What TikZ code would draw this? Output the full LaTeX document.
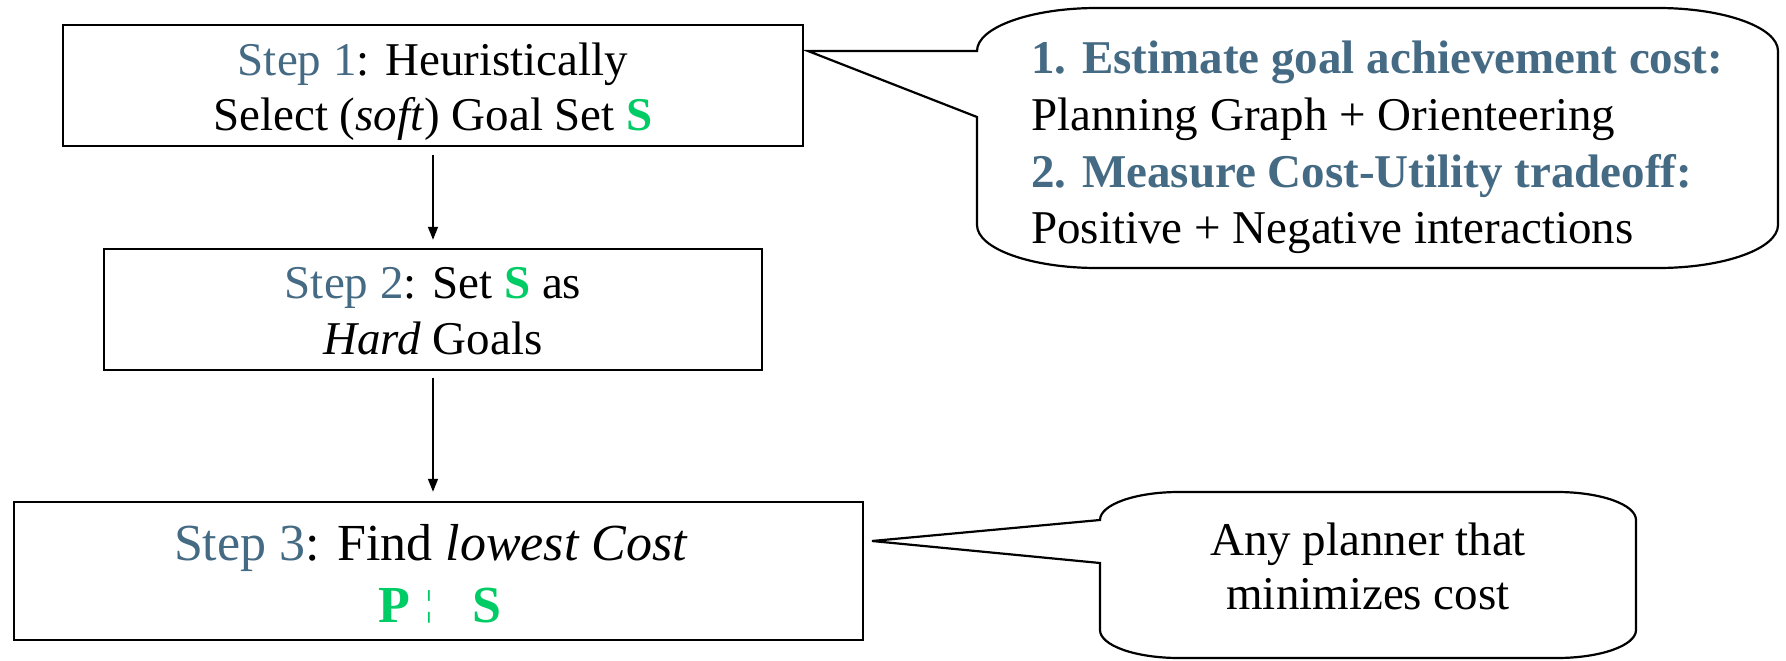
\documentclass[tikz,border=0pt]{standalone}
\usepackage{fontspec}
\setmainfont{Liberation Serif}
\usetikzlibrary{arrows.meta}
\definecolor{stepc}{HTML}{456A84}
\definecolor{sgreen}{HTML}{00CC66}
\begin{document}
\begin{tikzpicture}[x=1pt,y=-1pt,
  stepbox/.style={draw=black,line width=2.5pt,inner sep=0pt,fill=white},
  txt/.style={anchor=base,inner sep=0pt,font=\fontsize{47}{55}\selectfont},
  bigtxt/.style={anchor=base,inner sep=0pt,font=\fontsize{52}{62}\selectfont},
  notetxt/.style={anchor=base west,inner sep=0pt,font=\fontsize{47}{55}\selectfont},
  callout/.style={draw=black,line width=2.2pt,line join=miter,fill=white},
  arr/.style={draw=black,line width=1.6pt,-{Triangle[length=13pt,width=10pt]}}]
\useasboundingbox (0,0) rectangle (1786,661);

% the three step boxes
\node[stepbox,minimum width=740pt,minimum height=121pt] (box1) at (433,85.5) {};
\node[stepbox,minimum width=658pt,minimum height=121pt] (box2) at (433,309.5) {};
\node[stepbox,minimum width=849pt,minimum height=138pt] (box3) at (438.5,571) {};

\node[txt] (b1a) at (433,75) {\textcolor{stepc}{Step 1}: Heuristically};
\node[txt] (b1b) at (433,130) {Select (\textit{soft}) Goal Set \textcolor{sgreen}{\textbf{S}}};

\node[txt] (b2a) at (433,298) {\textcolor{stepc}{Step 2}: Set \textcolor{sgreen}{\textbf{S}} as};
\node[txt] (b2b) at (433,354) {\textit{Hard} Goals};

\node[bigtxt] (b3a) at (431,560) {\textcolor{stepc}{Step 3}: Find \textit{lowest Cost}};
\node[bigtxt] (b3b) at (440,622) {\textcolor{sgreen}{\textbf{P}\hspace{15pt}\raisebox{7pt}{\fontsize{36}{36}\selectfont ¦}\hspace{40pt}\textbf{S}}};

% arrows between the steps
\draw[arr] ([yshift=-8pt]box1.south) -- ([yshift=8pt]box2.north);
\draw[arr] ([yshift=-7pt]box2.south) -- ([yshift=9pt]box2.south |- box3.north);

% first callout
\coordinate (tip1) at (808,51);
\path[callout] (tip1) -- (977,51)
  .. controls (977,27.3) and (1031,8) .. (1097,8) -- (1658,8)
  .. controls (1724,8) and (1778,27.3) .. (1778,51) -- (1778,225)
  .. controls (1778,248.7) and (1724,268) .. (1658,268) -- (1097,268)
  .. controls (1031,268) and (977,248.7) .. (977,225) -- (977,117) -- cycle;
\node[notetxt] (n1a) at (1031,74) {\textcolor{stepc}{\textbf{1. Estimate goal achievement cost:}}};
\node[notetxt] (n1b) at (1031,130) {Planning Graph + Orienteering};
\node[notetxt] (n1c) at (1031,187) {\textcolor{stepc}{\textbf{2. Measure Cost-Utility tradeoff:}}};
\node[notetxt] (n1d) at (1031,243) {Positive + Negative interactions};

% second callout
\coordinate (tip2) at (872,541);
\path[callout] (tip2) -- (1100,520)
  .. controls (1100,504.5) and (1135.4,492) .. (1179,492) -- (1557,492)
  .. controls (1600.6,492) and (1636,504.5) .. (1636,520) -- (1636,630)
  .. controls (1636,645.5) and (1600.6,658) .. (1557,658) -- (1179,658)
  .. controls (1135.4,658) and (1100,645.5) .. (1100,630) -- (1100,563) -- cycle;
\node[txt] (n2a) at (1368,555) {Any planner that};
\node[txt] (n2b) at (1368,609) {minimizes cost};
\end{tikzpicture}
\end{document}
